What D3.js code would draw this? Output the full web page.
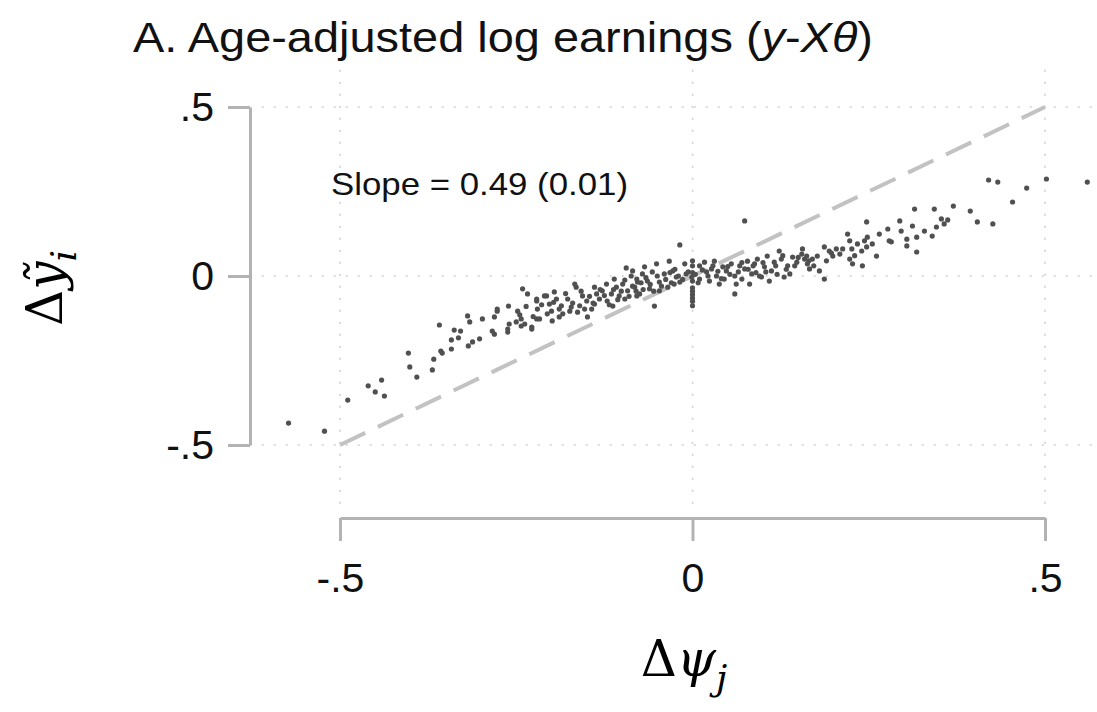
<!DOCTYPE html>
<html>
<head>
<meta charset="utf-8">
<script src="https://cdn.jsdelivr.net/npm/d3@7"></script>
<style>
  body { margin: 0; background: #fff; }
  svg { display: block; }
</style>
</head>
<body>
<div id="container"></div>
<script>
// binned scatter: change in worker earnings vs change in firm effect
const dpsi = [
  -0.573, -0.522, -0.489, -0.460, -0.450, -0.441, -0.437, -0.403, -0.401, -0.391,
  -0.369, -0.367, -0.359, -0.357, -0.355, -0.342, -0.342, -0.338, -0.332, -0.329,
  -0.319, -0.318, -0.298, -0.277, -0.261, -0.248, -0.241, -0.221, -0.207, -0.196,
  -0.312, -0.302, -0.281, -0.262, -0.250, -0.228, -0.221, -0.199, -0.316, -0.281,
  -0.277, -0.260, -0.243, -0.238, -0.234, -0.228, -0.221, -0.220, -0.217, -0.210,
  -0.203, -0.200, -0.193, -0.189, -0.184, -0.177, -0.172, -0.167, -0.165, -0.163,
  -0.156, -0.150, -0.149, -0.143, -0.139, -0.136, -0.132, -0.128, -0.122, -0.121,
  -0.115, -0.111, -0.108, -0.104, -0.099, -0.094, -0.092, -0.087, -0.082, -0.079,
  -0.078, -0.284, -0.262, -0.243, -0.189, -0.174, -0.153, -0.139, -0.113, -0.096,
  -0.075, -0.061, -0.047,
  -0.018, 0.074, -0.085, -0.079, -0.071, -0.064, -0.057, -0.054, -0.047, -0.040,
  -0.035, -0.028, -0.023, -0.018, -0.011, -0.009, -0.001, 0.000, 0.000, 0.000,
  0.000, 0.000, 0.000, 0.000, 0.010, 0.017, 0.020, 0.027, 0.034, 0.038,
  0.043, 0.048, 0.055, 0.060, 0.062, 0.060, 0.067, 0.074, 0.078, 0.084,
  0.088, 0.092, 0.098, 0.102, 0.106, 0.112, 0.116, 0.123, 0.126, 0.130,
  0.135, 0.142, 0.148, 0.155, 0.159, 0.163, 0.187, 0.095, -0.068, -0.051,
  -0.033, -0.026, 0.010, 0.024, 0.045, 0.070, 0.081, 0.109, 0.138, 0.031,
  0.156, 0.162, 0.166, 0.170, 0.177, 0.180, 0.187, 0.194, 0.199, 0.204,
  0.209, 0.220, 0.223, 0.226, 0.223, 0.227, 0.234, 0.240, 0.241, 0.247,
  0.248, 0.247, 0.255, 0.261, 0.265, 0.277, 0.279, 0.282, 0.294, 0.296,
  0.304, 0.304, 0.312, 0.315, 0.318, 0.318, 0.329, 0.340, 0.343, 0.346,
  0.353, 0.357,
  0.420, 0.433, 0.474, 0.454, 0.502, 0.560, 0.370, 0.394, 0.404, 0.426,
  0.362,
  // dense middle of the cloud
  -0.245, -0.236, -0.226, -0.214, -0.206, -0.197, -0.186, -0.180, -0.170, -0.160,
  -0.158, -0.146, -0.141, -0.131, -0.125, -0.118, -0.112, -0.106, -0.101, -0.096,
  -0.090, -0.085, -0.080, -0.073, -0.070, -0.066, -0.060, -0.055, -0.050, -0.044,
  -0.038, -0.032, -0.030, -0.025, -0.020, -0.014, -0.006, 0.000, 0.000, 0.000,
  0.004, 0.008, 0.014, 0.022, 0.029, 0.036, 0.041, 0.050, 0.053, 0.065,
  0.070, 0.079, 0.086, 0.090, 0.100, 0.104, 0.118, 0.120, 0.128, 0.133,
  0.145, 0.150, 0.165, 0.172, 0.190, 0.197, 0.213, 0.230, 0.244
];
const dy = [
  -0.435, -0.459, -0.367, -0.325, -0.343, -0.308, -0.355, -0.228, -0.269, -0.299,
  -0.278, -0.246, -0.145, -0.222, -0.228, -0.216, -0.189, -0.160, -0.183, -0.163,
  -0.118, -0.207, -0.127, -0.104, -0.089, -0.104, -0.038, -0.068, -0.059, -0.047,
  -0.195, -0.186, -0.172, -0.166, -0.136, -0.151, -0.127, -0.133, -0.136, -0.121,
  -0.098, -0.142, -0.127, -0.142, -0.053, -0.157, -0.074, -0.098, -0.127, -0.059,
  -0.083, -0.104, -0.068, -0.098, -0.112, -0.068, -0.092, -0.024, -0.033, -0.107,
  -0.059, -0.074, -0.121, -0.098, -0.033, -0.053, -0.068, -0.044, -0.024, -0.074,
  -0.053, -0.009, -0.033, -0.059, -0.024, 0.024, -0.044, 0.000, -0.033, -0.059,
  -0.018, -0.163, -0.157, -0.148, -0.121, -0.104, -0.098, -0.083, -0.089, -0.068,
  -0.053, -0.038, -0.044,
  0.092, 0.163, 0.015, -0.009, 0.006, -0.015, 0.012, -0.089, -0.018, 0.006,
  -0.033, 0.015, -0.003, -0.018, 0.036, 0.006, -0.003, 0.030, 0.010, -0.015,
  -0.035, -0.055, -0.075, -0.088, 0.030, 0.041, 0.012, 0.021, 0.000, -0.024,
  0.027, 0.015, 0.036, 0.000, -0.024, -0.053, 0.030, 0.021, 0.044, 0.006,
  0.036, 0.050, -0.003, 0.027, 0.059, 0.015, 0.041, 0.074, 0.050, -0.003,
  0.030, 0.056, 0.041, 0.065, 0.050, 0.036, -0.009, 0.000, 0.027, 0.036,
  0.044, -0.024, -0.009, -0.015, -0.009, -0.009, -0.024, -0.015, 0.006, 0.044,
  0.080, 0.059, 0.021, 0.050, 0.059, 0.015, 0.086, 0.074, 0.059, 0.080,
  0.065, 0.124, 0.104, 0.080, 0.050, 0.036, 0.095, 0.074, 0.030, 0.160,
  0.115, 0.086, 0.095, 0.059, 0.124, 0.139, 0.104, 0.101, 0.163, 0.133,
  0.109, 0.089, 0.148, 0.198, 0.115, 0.071, 0.133, 0.118, 0.198, 0.145,
  0.169, 0.154,
  0.284, 0.278, 0.260, 0.219, 0.287, 0.278, 0.207, 0.192, 0.160, 0.154,
  0.166,
  -0.115, -0.090, -0.120, -0.085, -0.112, -0.078, -0.088, -0.052, -0.080, -0.088,
  -0.045, -0.060, -0.080, -0.040, -0.058, -0.085, -0.040, -0.070, -0.045, -0.012,
  -0.060, -0.030, -0.045, -0.020, -0.040, -0.005, -0.025, -0.045, 0.000, -0.030,
  -0.010, 0.010, -0.020, 0.020, 0.000, -0.010, 0.012, 0.045, -0.045, -0.065,
  0.005, -0.020, 0.018, 0.000, 0.030, 0.014, -0.008, 0.028, 0.005, 0.012,
  0.040, 0.020, 0.030, 0.010, 0.040, 0.012, 0.030, 0.005, 0.060, 0.020,
  0.030, 0.055, 0.045, 0.030, 0.045, 0.068, 0.080, 0.060, 0.104
];
const tickVals = [-0.5, 0, 0.5];
const tickLabels = ["-.5", "0", ".5"];
const slopeText = "Slope = 0.49 (0.01)";

const w = 1097;
const h = 712;
const font = '"Liberation Sans", Arial, Helvetica, sans-serif';
const gridColor = '#cfcfcf';
const axisColor = '#b3b3b3';

const xScale = d3.scaleLinear().domain([-0.5, 0.5]).range([340, 1045]);
const yScale = d3.scaleLinear().domain([-0.5, 0.5]).range([445, 107]);

// plot region edges (in data units)
const xLo = -0.611, xHi = 0.62, yLo = -0.68, yHi = 0.61;

const svg = d3.select("#container")
  .append("svg")
  .attr("width", w)
  .attr("height", h);

// title
const title = svg.append("text")
  .attr("x", 133)
  .attr("y", 52)
  .attr("font-family", font)
  .attr("font-size", 43)
  .attr("textLength", 740)
  .attr("lengthAdjust", "spacingAndGlyphs")
  .attr("fill", "#111");
title.append("tspan").text("A. Age-adjusted log earnings (");
title.append("tspan").attr("font-style", "italic").text("y");
title.append("tspan").text("-");
title.append("tspan").attr("font-style", "italic").text("X\u03b8");
title.append("tspan").text(")");

// dotted grid
const grid = svg.append("g")
  .attr("stroke", gridColor)
  .attr("stroke-width", 1.6)
  .attr("stroke-dasharray", "2,10");
grid.selectAll("line.h")
  .data(tickVals)
  .enter()
  .append("line")
  .attr("class", "h")
  .attr("x1", xScale(xLo)).attr("x2", xScale(xHi))
  .attr("y1", d => yScale(d)).attr("y2", d => yScale(d));
grid.selectAll("line.v")
  .data(tickVals)
  .enter()
  .append("line")
  .attr("class", "v")
  .attr("x1", d => xScale(d)).attr("x2", d => xScale(d))
  .attr("y1", yScale(yHi)).attr("y2", yScale(yLo));

// 45 degree reference line
svg.append("line")
  .attr("x1", xScale(-0.5)).attr("y1", yScale(-0.5))
  .attr("x2", xScale(0.5)).attr("y2", yScale(0.5))
  .attr("stroke", "#c2c2c2")
  .attr("stroke-width", 4)
  .attr("stroke-dasharray", "28,14");

// points
svg.append("g")
  .selectAll("circle")
  .data(d3.range(dpsi.length))
  .enter()
  .append("circle")
  .attr("cx", i => xScale(dpsi[i]))
  .attr("cy", i => yScale(dy[i]))
  .attr("r", 2.6)
  .attr("fill", "#505050");

svg.append("text")
  .attr("x", 331)
  .attr("y", 195)
  .attr("font-family", font)
  .attr("font-size", 32)
  .attr("textLength", 297)
  .attr("lengthAdjust", "spacingAndGlyphs")
  .attr("fill", "#111")
  .text(slopeText);

// axes
const fmt = d => tickLabels[tickVals.indexOf(d)];
const yAxis = d3.axisLeft(yScale)
  .tickValues(tickVals).tickFormat(fmt)
  .tickSize(22).tickSizeOuter(0).tickPadding(14);
const xAxis = d3.axisBottom(xScale)
  .tickValues(tickVals).tickFormat(fmt)
  .tickSize(23).tickSizeOuter(0).tickPadding(22);

const gy = svg.append("g")
  .attr("transform", "translate(250,0)")
  .call(yAxis);
const gx = svg.append("g")
  .attr("transform", "translate(0,518)")
  .call(xAxis);

[gx, gy].forEach(g => {
  g.select(".domain").attr("stroke", axisColor).attr("stroke-width", 3);
  g.selectAll(".tick line").attr("stroke", axisColor).attr("stroke-width", 3);
  g.selectAll(".tick text").attr("font-size", 41).attr("font-family", font).attr("fill", "#111");
});

// axis titles
const mathFont = '"DejaVu Serif", "Liberation Serif", serif';
const xl = svg.append("text")
  .attr("x", 684)
  .attr("y", 676)
  .attr("text-anchor", "middle")
  .attr("font-family", mathFont)
  .attr("font-size", 50)
  .attr("fill", "#000");
xl.append("tspan").text("\u0394");
xl.append("tspan").attr("font-style", "italic").text("\u03c8");
xl.append("tspan").attr("font-style", "italic").attr("font-size", 36).attr("dy", 14).text("j");

const yl = svg.append("text")
  .attr("transform", "translate(62,288) rotate(-90)")
  .attr("text-anchor", "middle")
  .attr("font-family", mathFont)
  .attr("font-size", 50)
  .attr("fill", "#000");
yl.append("tspan").text("\u0394");
yl.append("tspan").attr("font-style", "italic").text("y\u0303");
yl.append("tspan").attr("font-style", "italic").attr("font-size", 36).attr("dy", 14).text("i");
</script>
</body>
</html>
